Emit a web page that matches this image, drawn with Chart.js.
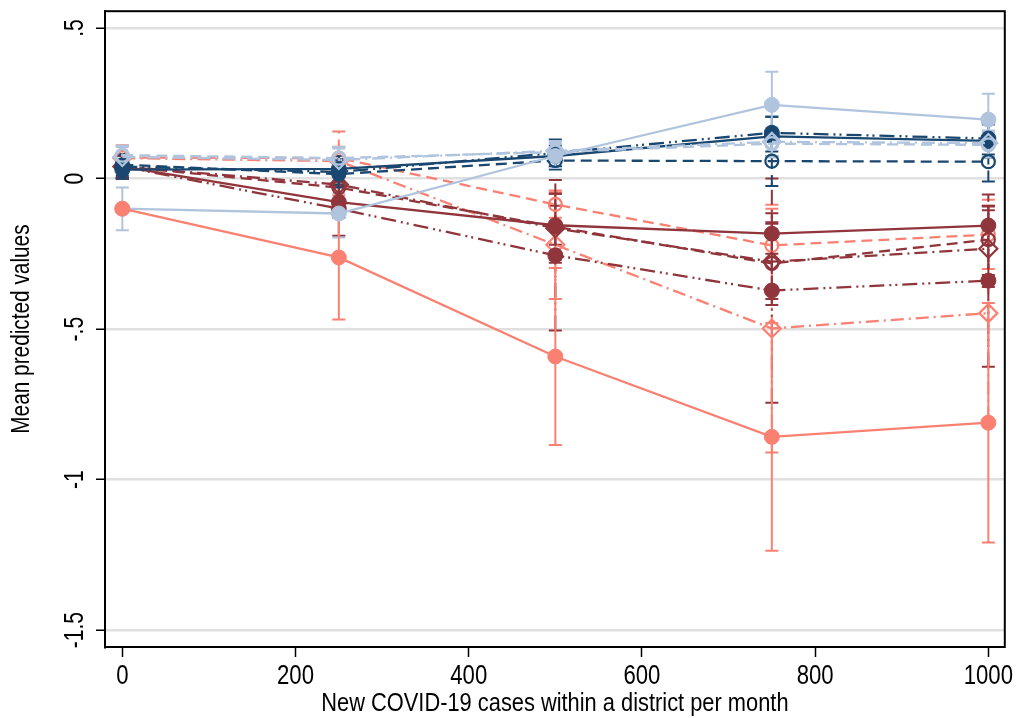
<!DOCTYPE html>
<html><head><meta charset="utf-8">
<script src="https://cdn.jsdelivr.net/npm/chart.js@4"></script>
<style>html,body{margin:0;padding:0;background:#fff}#wrap{width:1016px;height:718px}</style>
</head><body><div id="wrap"><canvas id="c" width="1016" height="718"></canvas></div>
<script>
// ---------- data ----------
const cases = [0, 250, 500, 750, 1000];
const xTicks = [0, 200, 400, 600, 800, 1000];
const xTickLabels = ['0', '200', '400', '600', '800', '1000'];
const yTicks = [0.5, 0, -0.5, -1, -1.5];
const yTickLabels = ['.5', '0', '-.5', '-1', '-1.5'];
const xTitle = 'New COVID-19 cases within a district per month';
const yTitle = 'Mean predicted values';

// light blue
const lbSolid   = [-0.100, -0.116, 0.075, 0.245, 0.196];
const lbSolidLo = [-0.172, -0.196, 0.035, 0.135, 0.110];
const lbSolidHi = [-0.030, -0.050, 0.115, 0.355, 0.282];
const lbDash    = [0.078, 0.068, 0.088, 0.116, 0.112];
const lbDashLo  = [0.045, 0.030, 0.055, 0.070, 0.070];
const lbDashHi  = [0.110, 0.105, 0.120, 0.160, 0.155];
const lbDashDot   = [0.072, 0.062, 0.092, 0.122, 0.118];
const lbDashDotLo = [0.040, 0.025, 0.060, 0.075, 0.075];
const lbDashDotHi = [0.105, 0.100, 0.125, 0.170, 0.160];

// navy
const nvSolid   = [0.030, 0.032, 0.075, 0.140, 0.125];
const nvSolidLo = [0.000, -0.010, 0.040, 0.075, 0.070];
const nvSolidHi = [0.060, 0.075, 0.110, 0.205, 0.180];
const nvDash    = [0.046, 0.015, 0.060, 0.058, 0.056];
const nvDashLo  = [0.010, -0.030, 0.030, -0.025, -0.010];
const nvDashHi  = [0.080, 0.060, 0.090, 0.140, 0.120];
const nvDDD     = [0.040, 0.022, 0.085, 0.152, 0.133];
const nvDDDLo   = [0.000, -0.020, 0.040, 0.090, 0.080];
const nvDDDHi   = [0.080, 0.065, 0.130, 0.205, 0.185];

// dark red
const drSolid   = [0.040, -0.078, -0.155, -0.183, -0.156];
const drSolidLo = [0.005, -0.130, -0.220, -0.250, -0.220];
const drSolidHi = [0.075, -0.025, -0.090, -0.115, -0.093];
const drDash    = [0.040, -0.030, -0.160, -0.282, -0.203];
const drDashLo  = [0.000, -0.090, -0.270, -0.420, -0.320];
const drDashHi  = [0.080, 0.030, -0.050, -0.145, -0.090];
const drDashDot   = [0.040, -0.020, -0.165, -0.276, -0.233];
const drDashDotLo = [0.000, -0.075, -0.280, -0.400, -0.360];
const drDashDotHi = [0.080, 0.035, -0.050, -0.150, -0.105];
const drDDD     = [0.040, -0.100, -0.255, -0.372, -0.339];
const drDDDLo   = [0.000, -0.190, -0.505, -0.745, -0.625];
const drDDDHi   = [0.080, -0.010, -0.005, 0.000, -0.053];

// salmon
const saSolid   = [-0.100, -0.262, -0.591, -0.858, -0.811];
const saSolidLo = [null, -0.468, -0.885, -1.236, -1.209];
const saSolidHi = [null, -0.056, -0.297, -0.480, -0.413];
const saDash    = [0.070, 0.068, -0.086, -0.222, -0.186];
const saDashLo  = [0.030, -0.020, -0.130, -0.360, -0.300];
const saDashHi  = [0.110, 0.156, -0.045, -0.087, -0.070];
const saDashDot   = [0.068, 0.058, -0.220, -0.498, -0.447];
const saDashDotLo = [0.030, 0.010, -0.400, -0.910, -0.800];
const saDashDotHi = [0.110, 0.106, -0.040, -0.100, -0.090];

// ---------- styles ----------
const LB = '#b0c4de', NV = '#1a476f', DR = '#90353b', SA = '#fa8072';
const DASH = [11, 6], DASHDOT = [13, 5, 2, 5], DDD = [15, 5, 2, 4, 2, 5];
const FONT = "'Liberation Sans', Arial, sans-serif";

const series = [
  {v: saSolid, lo: saSolidLo, hi: saSolidHi, c: SA, dash: [], m: 'circle', fill: true},
  {v: lbSolid, lo: lbSolidLo, hi: lbSolidHi, c: LB, dash: [], m: 'circle', fill: true},
  {v: lbDash, lo: lbDashLo, hi: lbDashHi, c: LB, dash: DASH, m: 'circle', fill: false},
  {v: lbDashDot, lo: lbDashDotLo, hi: lbDashDotHi, c: LB, dash: DASHDOT, m: 'rectRot', fill: false},
  {v: nvSolid, lo: nvSolidLo, hi: nvSolidHi, c: NV, dash: [], m: 'circle', fill: true},
  {v: nvDash, lo: nvDashLo, hi: nvDashHi, c: NV, dash: DASH, m: 'circle', fill: false},
  {v: nvDDD, lo: nvDDDLo, hi: nvDDDHi, c: NV, dash: DDD, m: 'circle', fill: true},
  {v: drSolid, lo: drSolidLo, hi: drSolidHi, c: DR, dash: [], m: 'circle', fill: true},
  {v: drDash, lo: drDashLo, hi: drDashHi, c: DR, dash: DASH, m: 'circle', fill: false},
  {v: drDashDot, lo: drDashDotLo, hi: drDashDotHi, c: DR, dash: DASHDOT, m: 'rectRot', fill: false},
  {v: drDDD, lo: drDDDLo, hi: drDDDHi, c: DR, dash: DDD, m: 'circle', fill: true},
  {v: saDash, lo: saDashLo, hi: saDashHi, c: SA, dash: DASH, m: 'circle', fill: false},
  {v: saDashDot, lo: saDashDotLo, hi: saDashDotHi, c: SA, dash: DASHDOT, m: 'rectRot', fill: false},
];

const datasets = [];
series.forEach((s) => {
  datasets.push({
    data: cases.map((x, i) => ({x, y: s.v[i]})),
    showLine: true, borderColor: s.c, borderWidth: 2.3, borderDash: s.dash,
    pointStyle: s.m,
    pointRadius: s.m === 'rectRot' ? 9 : (s.fill ? 7.5 : 6.5),
    pointBackgroundColor: s.fill ? s.c : 'rgba(0,0,0,0)',
    pointBorderColor: s.c, pointBorderWidth: s.fill ? 1 : 2.2,
    order: 1
  });
  const eb = [];
  cases.forEach((x, i) => {
    if (s.lo[i] === null || s.hi[i] === null) return;
    eb.push({x, y: s.lo[i]}, {x, y: s.hi[i]}, {x, y: null});
  });
  datasets.push({
    data: eb, showLine: true, spanGaps: false,
    borderColor: s.c, borderWidth: 2, borderDash: s.dash,
    pointStyle: 'line', pointRadius: 6.5, pointBorderWidth: 2, pointBorderColor: s.c,
    order: 2
  });
});

const framePlugin = {
  id: 'frame',
  beforeDatasetsDraw(chart) {
    const {ctx, chartArea: a} = chart;
    ctx.save();
    ctx.strokeStyle = '#000';
    ctx.lineWidth = 2;
    ctx.strokeRect(a.left, a.top, a.right - a.left, a.bottom - a.top);
    ctx.restore();
  }
};

// axis labels and titles in a condensed style (horizontal squeeze of Liberation Sans)
const textPlugin = {
  id: 'axisTexts',
  afterDraw(chart) {
    const {ctx, chartArea: a, scales: {x, y}} = chart;
    const put = (str, cx, cy, size, rot, sx) => {
      ctx.save();
      ctx.translate(cx, cy);
      ctx.rotate(rot);
      ctx.scale(sx, 1);
      ctx.font = size + 'px ' + FONT;
      ctx.fillStyle = '#000';
      ctx.textAlign = 'center';
      ctx.textBaseline = 'middle';
      ctx.fillText(str, 0, 0);
      ctx.restore();
    };
    xTicks.forEach((v, i) => put(xTickLabels[i], x.getPixelForValue(v), 677, 27, 0, 0.82));
    yTicks.forEach((v, i) => put(yTickLabels[i], 76, y.getPixelForValue(v), 27, -Math.PI / 2, 0.78));
    put(xTitle, (a.left + a.right) / 2, 704, 26, 0, 0.84);
    put(yTitle, 22, (a.top + a.bottom) / 2, 26, -Math.PI / 2, 0.80);
  }
};

new Chart(document.getElementById('c'), {
  type: 'scatter',
  data: {datasets},
  plugins: [framePlugin, textPlugin],
  options: {
    responsive: false, animation: false, devicePixelRatio: 1,
    layout: {padding: {top: 10, right: 11, left: 0, bottom: 0}},
    plugins: {legend: {display: false}, tooltip: {enabled: false}},
    scales: {
      x: {
        type: 'linear', min: -20, max: 1019,
        afterBuildTicks: s => { s.ticks = xTicks.map(v => ({value: v})); },
        afterFit: s => { s.height = 71; },
        grid: {drawOnChartArea: false, drawTicks: true, tickLength: 10, tickColor: '#000', tickWidth: 1.5},
        border: {display: true, color: '#000', width: 2},
        ticks: {display: false},
        title: {display: false, text: xTitle}
      },
      y: {
        type: 'linear', min: -1.556, max: 0.556,
        afterBuildTicks: s => { s.ticks = yTicks.map(v => ({value: v})); },
        afterFit: s => { s.width = 105; },
        grid: {color: '#e0e0e0', lineWidth: 2.5, drawTicks: true, tickLength: 9, tickColor: '#000', tickWidth: 1.5},
        border: {display: true, color: '#000', width: 2},
        ticks: {display: false},
        title: {display: false, text: yTitle}
      }
    }
  }
});
</script>
</body></html>
